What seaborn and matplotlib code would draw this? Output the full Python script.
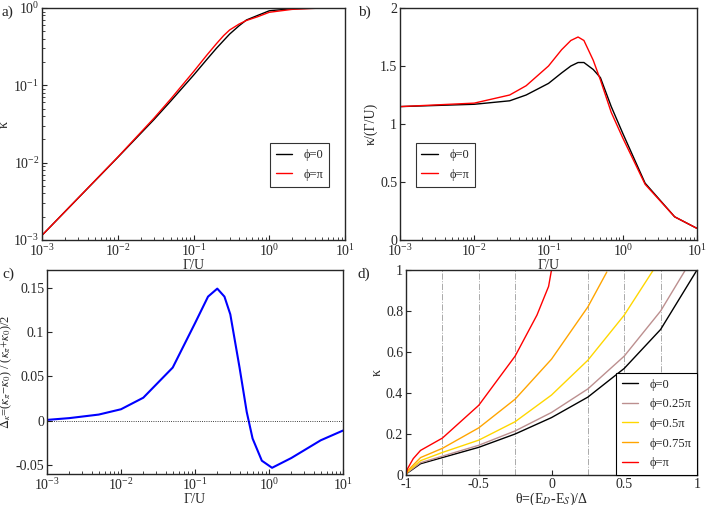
import matplotlib
matplotlib.use("Agg")
import matplotlib.pyplot as plt
import seaborn as sns

sns.set_style("ticks")
plt.rcParams["font.family"] = "Liberation Serif"
plt.rcParams["font.size"] = 10
plt.rcParams["mathtext.fontset"] = "stix"

# panels a/b: Gamma/U grid
gam = [1e-3, 1e-2, 3e-2, 0.05, 0.1, 0.15, 0.2, 0.25, 0.3, 0.4, 0.5, 0.7, 1, 2, 5, 10]
kap0 = [0.00115, 0.0117, 0.036, 0.0625, 0.135, 0.216, 0.30, 0.38, 0.46, 0.59, 0.70, 0.80, 0.92, 0.98, 1.0, 1.0]
kappi = [0.00115, 0.0118, 0.0375, 0.0665, 0.15, 0.246, 0.344, 0.44, 0.52, 0.62, 0.69, 0.77, 0.88, 0.96, 1.0, 1.0]
ratio0 = [1.15, 1.17, 1.2, 1.25, 1.35, 1.44, 1.5, 1.53, 1.53, 1.47, 1.4, 1.15, 0.92, 0.49, 0.2, 0.1]
ratiopi = [1.15, 1.18, 1.25, 1.33, 1.5, 1.64, 1.72, 1.75, 1.72, 1.55, 1.38, 1.1, 0.88, 0.48, 0.2, 0.1]

# panel c
gam_c = [1e-3, 2e-3, 5e-3, 1e-2, 2e-2, 5e-2, 0.1, 0.15, 0.2, 0.25, 0.3, 0.4, 0.5, 0.6, 0.8, 1.1, 2, 5, 10]
delta = [0.001, 0.003, 0.007, 0.013, 0.026, 0.06, 0.11, 0.14, 0.149, 0.14, 0.12, 0.06, 0.01, -0.02, -0.045, -0.053, -0.042, -0.022, -0.011]

# panel d
d_series = [
    ("ϕ=0", "black", [-1, -0.99, -0.9, -0.5, -0.25, 0, 0.25, 0.5, 0.75, 1],
     [0, 0.01, 0.055, 0.135, 0.2, 0.28, 0.38, 0.52, 0.71, 1.0]),
    ("ϕ=0.25π", "#bc8f8f", [-1, -0.99, -0.9, -0.5, -0.25, 0, 0.25, 0.5, 0.75, 0.92],
     [0, 0.012, 0.06, 0.145, 0.215, 0.305, 0.42, 0.58, 0.8, 1.0]),
    ("ϕ=0.5π", "#ffd700", [-1, -0.99, -0.9, -0.75, -0.5, -0.25, 0, 0.25, 0.5, 0.7],
     [0, 0.015, 0.07, 0.11, 0.17, 0.26, 0.39, 0.56, 0.78, 1.0]),
    ("ϕ=0.75π", "#ffa500", [-1, -0.99, -0.9, -0.75, -0.5, -0.25, 0, 0.25, 0.38],
     [0, 0.02, 0.085, 0.13, 0.23, 0.37, 0.565, 0.82, 0.99]),
    ("ϕ=π", "red", [-1, -0.99, -0.95, -0.9, -0.75, -0.5, -0.25, -0.1, -0.02, 0],
     [0, 0.03, 0.08, 0.12, 0.18, 0.34, 0.58, 0.78, 0.92, 1.0]),
]
vlines = [-0.75, -0.5, -0.25, 0.25, 0.5, 0.75]

fig = plt.figure(figsize=(7.06, 5.05), dpi=100)
W, H = 706, 505
def ax_px(x0, y0, x1, y1):
    return fig.add_axes([x0 / W, 1 - y1 / H, (x1 - x0) / W, (y1 - y0) / H])

axa = ax_px(42, 8, 345, 240)
axb = ax_px(400, 8, 697, 240)
axc = ax_px(47, 270, 343, 474)
axd = ax_px(406, 270, 697, 475)

sns.lineplot(x=gam, y=kap0, ax=axa, color="black", label="ϕ=0", lw=1)
sns.lineplot(x=gam, y=kappi, ax=axa, color="red", label="ϕ=π", lw=1)
axa.set_xscale("log"); axa.set_yscale("log")
axa.set_xlim(1e-3, 10); axa.set_ylim(1e-3, 1)
axa.set_xlabel("Γ/U", labelpad=0); axa.set_ylabel("κ", labelpad=2)
axa.legend(loc="lower right", bbox_to_anchor=(0.97, 0.2), fancybox=False, edgecolor="black", handlelength=1.2)

sns.lineplot(x=gam, y=ratio0, ax=axb, color="black", label="ϕ=0", lw=1)
sns.lineplot(x=gam, y=ratiopi, ax=axb, color="red", label="ϕ=π", lw=1)
axb.set_xscale("log")
axb.set_xlim(1e-3, 10); axb.set_ylim(0, 2)
axb.set_yticks([0, 0.5, 1, 1.5, 2]); axb.set_yticklabels(["0", "0.5", "1", "1.5", "2"])
axb.set_xlabel("Γ/U", labelpad=0); axb.set_ylabel("κ/(Γ/U)", labelpad=2)
axb.legend(loc="lower left", bbox_to_anchor=(0.03, 0.2), fancybox=False, edgecolor="black", handlelength=1.2)

sns.lineplot(x=gam_c, y=delta, ax=axc, color="blue", lw=1.5)
axc.axhline(0, color="black", lw=0.6, ls=":")
axc.set_xscale("log")
axc.set_xlim(1e-3, 10); axc.set_ylim(-0.06, 0.17)
axc.set_yticks([-0.05, 0, 0.05, 0.1, 0.15]); axc.set_yticklabels(["-0.05", "0", "0.05", "0.1", "0.15"])
axc.set_xlabel("Γ/U", labelpad=0)
axc.set_ylabel(r"$\Delta_\kappa$=($\kappa_\pi$−$\kappa_0$) / ($\kappa_\pi$+$\kappa_0$)/2", fontsize=9, labelpad=1)

for x in vlines:
    axd.axvline(x, color="#aaaaaa", lw=0.7, ls="-.")
for lab, col, xs, ys in d_series:
    sns.lineplot(x=xs, y=ys, ax=axd, color=col, label=lab, lw=1, sort=False)
axd.set_xlim(-1, 1); axd.set_ylim(0, 1)
axd.set_xticks([-1, -0.5, 0, 0.5, 1]); axd.set_xticklabels(["-1", "-0.5", "0", "0.5", "1"])
axd.set_yticks([0, 0.2, 0.4, 0.6, 0.8, 1]); axd.set_yticklabels(["0", "0.2", "0.4", "0.6", "0.8", "1"])
axd.set_xlabel(r"θ=(E$_D$-E$_S$)/Δ", labelpad=0); axd.set_ylabel("κ", labelpad=2)
axd.legend(loc="lower right", fancybox=False, edgecolor="black", handlelength=1.2, borderaxespad=0, framealpha=1)

for ax, t, (x, y) in [(axa, "a)", (2, 12)), (axb, "b)", (358, 12)), (axc, "c)", (2, 274)), (axd, "d)", (358, 274))]:
    fig.text(x / W, 1 - y / H, t, fontsize=11, va="center")
    ax.tick_params(direction="in", which="both", top=False, right=False, labelsize=10, pad=2)
    for s in ax.spines.values():
        s.set_visible(True); s.set_linewidth(1)
    leg = ax.get_legend()
    if leg is not None:
        leg.get_frame().set_linewidth(0.8)
        for txt in leg.get_texts():
            txt.set_fontsize(9)

fig.savefig("out.png", dpi=100)
